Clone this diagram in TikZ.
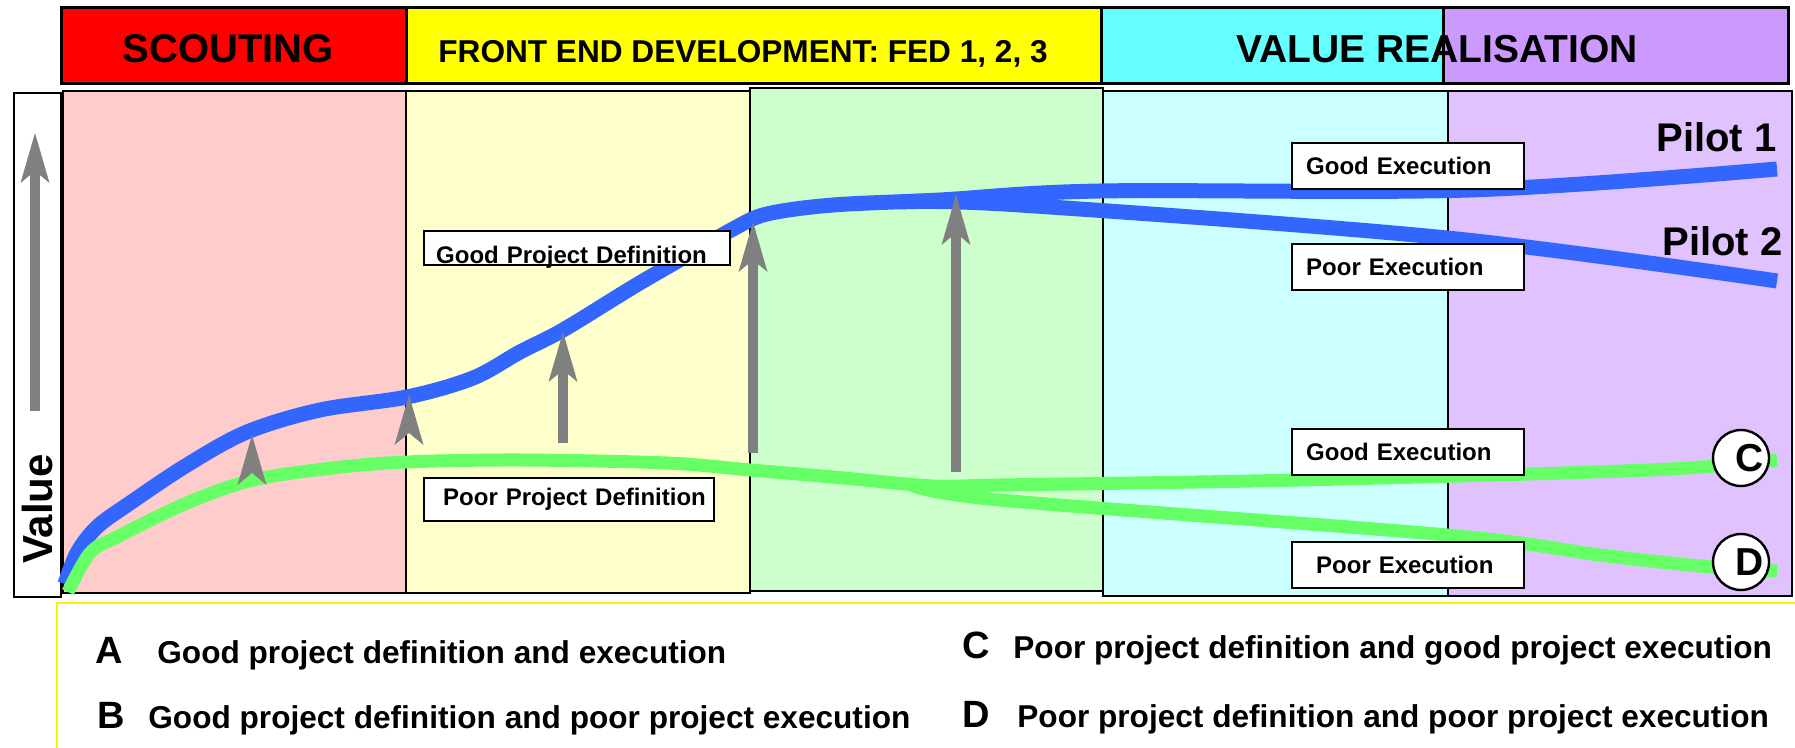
\documentclass[tikz,border=0pt]{standalone}
\usepackage{fontspec}
\setmainfont{Liberation Sans}
\usetikzlibrary{arrows.meta}

\definecolor{scoutred}{HTML}{FF0000}
\definecolor{fedyellow}{HTML}{FFFF00}
\definecolor{valuecyan}{HTML}{66FFFF}
\definecolor{pilotpurple}{HTML}{CC99FF}
\definecolor{scoutpink}{HTML}{FFCCCC}
\definecolor{fedpale}{HTML}{FFFFCC}
\definecolor{fedgreen}{HTML}{CCFFCC}
\definecolor{valuepale}{HTML}{CCFFFF}
\definecolor{pilotpale}{HTML}{E0C2FF}
\definecolor{goodblue}{HTML}{3366FF}
\definecolor{poorgreen}{HTML}{66FF66}
\definecolor{arrowgray}{HTML}{808080}

\tikzset{
	phase/.style={draw=black, line width=1.5pt},
	stage/.style={draw=black, line width=1.2pt},
	goodcurve/.style={goodblue, line width=7.5pt},
	poorcurve/.style={poorgreen, line width=6.5pt},
	rise/.style={arrowgray, line width=5pt, -{Stealth[length=25pt, width=14.5pt, inset=6pt, line width=0pt]}},
	risehead/.pic={\fill[arrowgray] (0,0) -- (14.5,50) -- (0,38) -- (-14.5,50) -- cycle;},
	headtext/.style={inner sep=0pt, font=\fontsize{20}{24}\selectfont\bfseries},
	labelbox/.style={draw, fill=white, line width=1.2pt, anchor=north west, align=left, font=\fontsize{12}{14}\selectfont\bfseries},
	execbox/.style={labelbox, minimum height=23pt, inner ysep=0pt, inner xsep=7pt, text width=102pt},
	pilottext/.style={inner sep=0pt, anchor=base east, font=\fontsize{20}{24}\selectfont\bfseries},
	endmark/.style={circle, draw, fill=white, line width=1.2pt, minimum size=28pt, inner sep=0pt},
	markletter/.style={inner sep=0pt, font=\fontsize{19.5}{22}\selectfont\bfseries},
	keyletter/.style={inner sep=0pt, anchor=base west, font=\fontsize{19}{22}\selectfont\bfseries},
	keytext/.style={inner sep=0pt, anchor=base west, font=\fontsize{15.8}{19}\selectfont\bfseries}
}

\begin{document}
\begin{tikzpicture}[x=0.5pt, y=-0.5pt]
	\useasboundingbox (0,0) rectangle (1795,748);

	% phase headers
	\filldraw[phase, fill=scoutred] (61,8) rectangle (406,84);
	\filldraw[phase, fill=fedyellow] (406,8) rectangle (1101,84);
	\filldraw[phase, fill=valuecyan] (1101,8) rectangle (1443,84);
	\filldraw[phase, fill=pilotpurple] (1443,8) rectangle (1788,84);
	\node[headtext, anchor=base] (scouting) at (228,63) {SCOUTING};
	\node[headtext, anchor=base west, font=\fontsize{15.8}{19}\selectfont\bfseries] (fed) at (438,63) {FRONT END DEVELOPMENT: FED 1, 2, 3};
	\node[headtext, anchor=base west, font=\fontsize{19.5}{23}\selectfont\bfseries] (realise) at (1236,63) {VALUE REALISATION};

	% stage panels
	\filldraw[stage, fill=scoutpink] (63,91) rectangle (406,593);
	\filldraw[stage, fill=fedpale] (406,91) rectangle (750,593);
	\filldraw[stage, fill=fedgreen] (750,88) rectangle (1103,591);
	\filldraw[stage, fill=valuepale] (1103,91) rectangle (1448,596);
	\filldraw[stage, fill=pilotpale] (1448,91) rectangle (1792,596);

	% value axis
	\filldraw[stage, fill=white] (14,93) rectangle (61,597);
	\draw[rise] (35,411) -- (35,133);
	\node[rotate=90, inner sep=0pt, font=\fontsize{21}{24}\selectfont\bfseries] (value) at (37,509) {Value};

	% good definition: pilot 1 and pilot 2
	\draw[goodcurve] plot[smooth, tension=0.55] coordinates {(65,584) (77,553) (97,527) (130,503) (187,465) (247,432) (320,410) (407,397) (473,378) (520,352) (563,330) (633,287) (683,258) (733,229) (767,214) (833,205) (940,200) (1100,191) (1470,190) (1777,169)};
	\draw[goodcurve] plot[smooth, tension=0.55] coordinates {(900,202) (1020,205) (1447,238) (1777,281)};

	% poor definition: C and D
	\draw[poorcurve] plot[smooth, tension=0.55] coordinates {(68,592) (90,553) (117,537) (187,503) (253,480) (333,468) (407,462) (520,460) (667,463) (750,470) (833,477) (933,486) (1000,485) (1300,480) (1650,470) (1777,460)};
	\draw[poorcurve] plot[smooth, tension=0.55] coordinates {(910,484) (1000,500) (1447,535) (1600,555) (1700,566) (1777,571)};

	% value gaps
	\pic at (252,435) {risehead};
	\pic at (409,395) {risehead};
	\draw[rise] (563,443) -- (563,332);
	\draw[rise] (753,453) -- (753,222);
	\draw[rise] (956,472) -- (956,195);

	% labels
	\node[labelbox, text width=141pt, inner xsep=6pt, inner ysep=0pt, text height=16pt, text depth=1pt] (gooddef) at (423,230) {Good Project Definition};
	\node[labelbox, text width=126pt, inner xsep=9.5pt, minimum height=21.5pt] (poordef) at (423,477) {\mbox{Poor Project Definition}};
	\node[execbox] (goodexec1) at (1291,142) {Good Execution};
	\node[execbox] (poorexec1) at (1291,243) {Poor Execution};
	\node[execbox] (goodexec2) at (1291,428) {Good Execution};
	\node[execbox, inner xsep=12pt, text width=92pt] (poorexec2) at (1291,541) {Poor Execution};

	\node[pilottext] (pilot1) at (1777,152) {Pilot 1};
	\node[pilottext] (pilot2) at (1783,256) {Pilot 2};

	\node[endmark] (markC) at (1741,458) {};
	\node[markletter, xshift=4.5pt] (letterC) at (markC) {C};
	\node[endmark] (markD) at (1741,562) {};
	\node[markletter, xshift=4.5pt] (letterD) at (markD) {D};

	% key
	\filldraw[draw=yellow, line width=1pt, fill=white] (57,603) rectangle (1815,770);
	\node[keyletter] (keyA) at (95,663) {A};
	\node[keytext] (textA) at (157,663) {Good project definition and execution};
	\node[keyletter] (keyB) at (97,728) {B};
	\node[keytext] (textB) at (148,728) {Good project definition and poor project execution};
	\node[keyletter] (keyC) at (962,659) {C};
	\node[keytext] (textC) at (1013,659) {Poor project definition and good project execution};
	\node[keyletter] (keyD) at (962,727) {D};
	\node[keytext] (textD) at (1017,727) {Poor project definition and poor project execution};
\end{tikzpicture}
\end{document}
